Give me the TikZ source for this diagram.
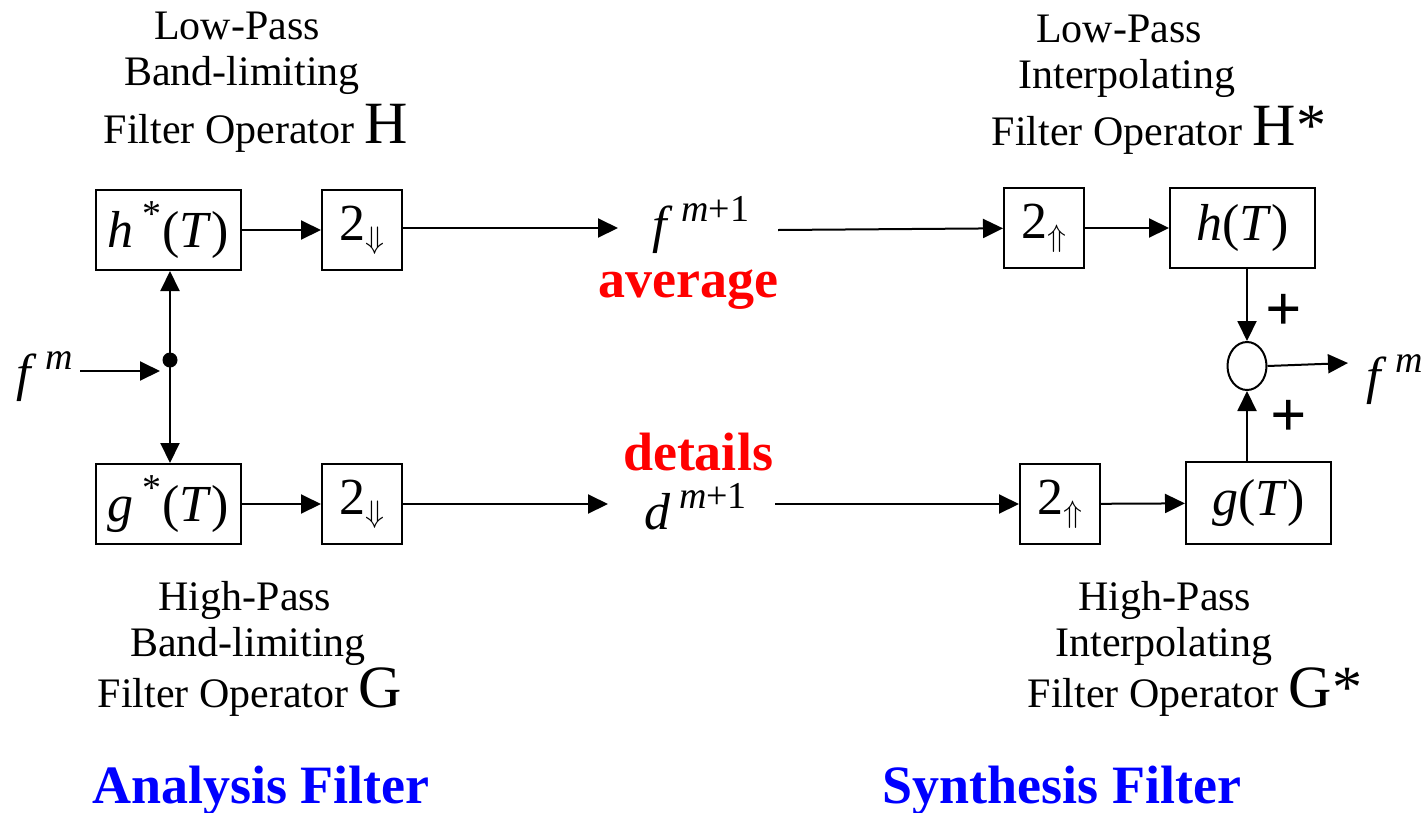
\documentclass[tikz,border=0pt]{standalone}
\usepackage{fix-cm}
\usepackage{graphicx}
\usepackage{fontspec}
\setmainfont{Liberation Serif}
\usetikzlibrary{arrows.meta,shapes.geometric}
\newcommand\szlab{\fontsize{42}{50}\selectfont}
\newcommand\szbig{\fontsize{60}{70}\selectfont}
\newcommand\szmath{\fontsize{52}{60}\selectfont}
\newcommand\szsup{\fontsize{38}{44}\selectfont}
\newcommand\szbold{\fontsize{54}{64}\selectfont\bfseries}
\newcommand\supx[1]{\raisebox{0.40em}{\szsup #1}}
\newcommand\dnar{\raisebox{-8pt}{\resizebox{19pt}{!}{$\Downarrow$}}}
\newcommand\upar{\raisebox{-8pt}{\resizebox{19pt}{!}{$\Uparrow$}}}
\definecolor{myred}{RGB}{255,0,0}
\definecolor{myblue}{RGB}{0,0,255}
\begin{document}
\begin{tikzpicture}[x=1pt,y=-1pt,
  blk/.style={draw,line width=2pt,minimum height=80pt,inner sep=0pt,font=\szmath},
  wbox/.style={blk,minimum width=145pt},
  sbox/.style={blk,minimum width=80pt},
  arr/.style={line width=2pt,-{Triangle[length=20pt,width=19pt]}},
  lab/.style={font=\szlab,anchor=base,inner sep=0pt},
  big/.style={font=\szbold,anchor=base,inner sep=0pt},
  sig/.style={font=\szmath,anchor=base west,inner sep=0pt},
  plus/.style={font=\fontsize{64}{68}\selectfont\bfseries,inner sep=0pt}]
\useasboundingbox (0,0) rectangle (1424,812);
% boxes
\node[wbox] (hs) at (168.5,230) {\textit{h}\,\supx{*}\kern1pt(\textit{T})};
\node[sbox] (dt) at (362,230) {2\dnar};
\node[sbox] (ut) at (1044,228) {2\upar};
\node[wbox] (hT) at (1242.5,228) {\textit{h}(\textit{T})};
\node[wbox] (gs) at (168.5,504) {\textit{g}\,\supx{*}\kern1pt(\textit{T})};
\node[sbox] (db) at (362,504) {2\dnar};
\node[sbox] (ub) at (1060,504) {2\upar};
\node[wbox,minimum height=82pt] (gT) at (1258.5,503) {\textit{g}(\textit{T})};
\node[draw,line width=2pt,ellipse,minimum width=39pt,minimum height=48pt,inner sep=0pt] (sum) at (1247,366) {};
\node[circle,fill,minimum size=15pt,inner sep=0pt] (dot) at (170,360) {};
% signals
\node[sig] (fin) at (16,390) {\textit{f}\,\supx{\textit{m}}};
\node[sig] (fm1) at (652,242) {\textit{f}\,\supx{\textit{m}+1}};
\node[sig] (dm1) at (644,529) {\textit{d}\,\supx{\textit{m}+1}};
\node[sig] (fout) at (1366,393) {\textit{f}\,\supx{\textit{m}}};
\node[plus] (p1) at (1284,312) {+};
\node[plus] (p2) at (1289,418) {+};
% coordinates
\coordinate (i0) at (80,371);
\coordinate (i1) at (160,371);
\coordinate (a1) at (618,228);
\coordinate (a2) at (778,230);
\coordinate (b1) at (608,504);
\coordinate (b2) at (775,504);
\coordinate (o1) at (1348,363);
% connectors
\draw[arr] (i0) -- (i1);
\draw[arr] (dot.center) -- (dot |- hs.south);
\draw[arr] (dot.center) -- (dot |- gs.north);
\draw[arr] (hs) -- (dt);
\draw[arr] (dt.east |- a1) -- (a1);
\draw[arr] (a2) -- (ut);
\draw[arr] (ut) -- (hT);
\draw[arr] (gs) -- (db);
\draw[arr] (db) -- (b1);
\draw[arr] (b2) -- (ub);
\draw[arr] (ub) -- (gT);
\draw[arr] (sum.north |- hT.south) -- (sum.north);
\draw[arr] (sum.south |- gT.north) -- (sum.south);
\draw[arr] (sum.east) -- (o1);
% labels
\node[lab] (tl1) at (237,39) {Low-Pass};
\node[lab] (tl2) at (242,85) {Band-limiting};
\node[lab] (tl3) at (256,143) {Filter Operator\ {\szbig H}};
\node[lab] (tr1) at (1119,42) {Low-Pass};
\node[lab] (tr2) at (1127,88) {Interpolating};
\node[lab] (tr3) at (1159,145) {Filter Operator\ {\szbig H*}};
\node[lab] (bl1) at (245,610) {High-Pass};
\node[lab] (bl2) at (248,656) {Band-limiting};
\node[lab] (bl3) at (250,707) {Filter Operator\ {\szbig G}};
\node[lab] (br1) at (1165,610) {High-Pass};
\node[lab] (br2) at (1164,656) {Interpolating};
\node[lab] (br3) at (1195,707) {Filter Operator\ {\szbig G*}};
\node[big,text=myred] (avg) at (688,297) {average};
\node[big,text=myred] (det) at (698,470) {details};
\node[big,text=myblue] (ana) at (261,803) {Analysis Filter};
\node[big,text=myblue] (syn) at (1062,803) {Synthesis Filter};
\end{tikzpicture}
\end{document}
